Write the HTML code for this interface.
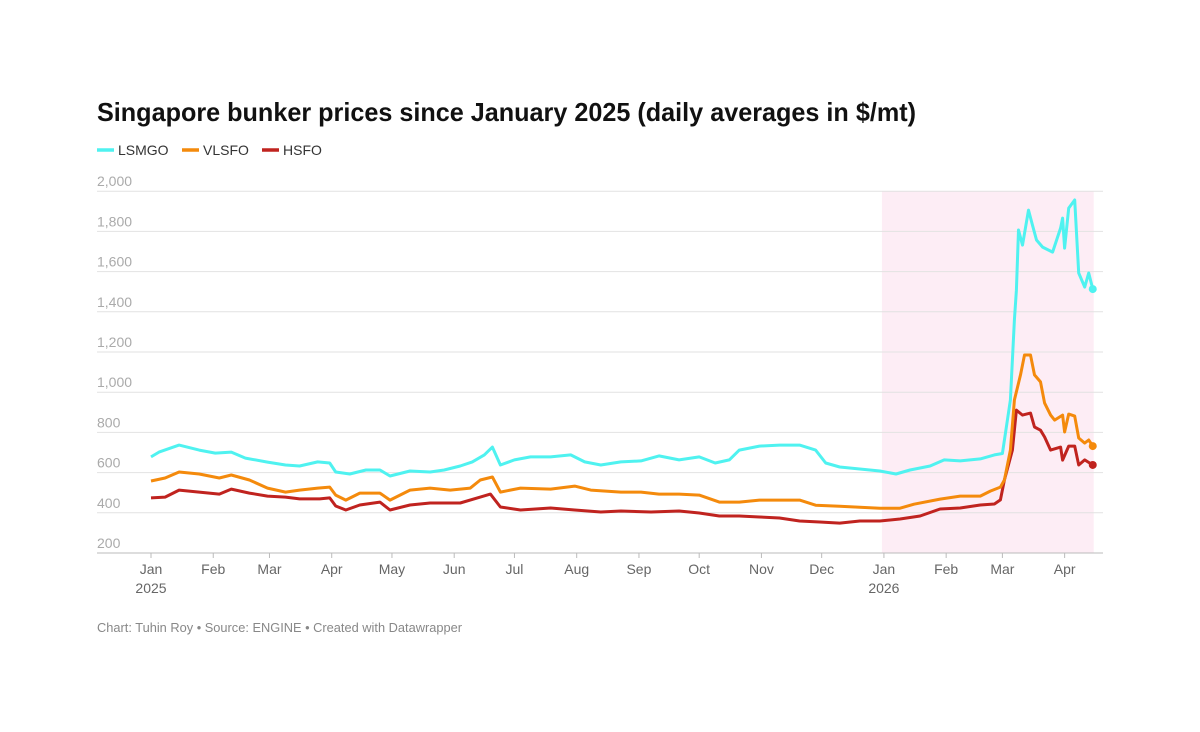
<!DOCTYPE html>
<html><head><meta charset="utf-8">
<style>
body{margin:0;background:#fff;font-family:"Liberation Sans",Arial,sans-serif;}
#wrap{position:relative;width:1200px;height:732px;overflow:hidden;}
</style></head>
<body><div id="wrap">
<svg id="chart" width="1200" height="732"></svg>
</div>
<script>
const yTicks=[200,400,600,800,1000,1200,1400,1600,1800,2000];
const monthTicks=[0,31,59,90,120,151,181,212,243,273,304,334,365,396,424,455];
const monthLabels=["Jan","Feb","Mar","Apr","May","Jun","Jul","Aug","Sep","Oct","Nov","Dec","Jan","Feb","Mar","Apr"];
const lsmgoDays=[0,4,14,24,32,40,47,58,67,74,83,89,92,99,107,114,119,129,139,146,154,160,166,170,174,181,189,199,209,216,224,234,244,253,263,273,281,288,293,303,313,323,331,336,343,353,363,371,378,388,395,403,413,420,424,428,430,431,432,434,437,439,441,444,449,453,454,455,457,460,462,465,467,469];
const lsmgo=[678,702,737,712,697,702,672,652,638,633,653,648,603,593,613,613,583,608,603,613,633,653,688,727,638,663,678,678,688,653,638,653,658,683,663,678,648,663,712,732,737,737,712,648,628,618,608,593,613,633,663,658,668,688,695,961,1359,1508,1807,1732,1906,1831,1757,1722,1697,1817,1866,1717,1916,1956,1593,1523,1593,1513];
const vlsfoDays=[0,7,14,24,34,40,49,58,67,74,83,89,92,97,104,114,119,129,139,149,159,164,170,174,184,199,211,219,234,244,253,263,273,283,293,303,313,323,331,343,353,363,373,380,393,403,413,418,423,425,428,430,433,435,438,440,443,445,448,450,454,455,457,460,462,465,467,469];
const vlsfo=[558,573,603,593,573,588,563,523,503,513,523,528,488,463,498,498,463,513,523,513,523,563,578,503,523,518,533,513,503,503,493,493,488,453,453,463,463,463,438,433,428,423,423,443,468,483,483,508,528,563,712,961,1086,1185,1185,1086,1051,946,886,861,886,802,891,881,772,747,762,732];
const hsfoDays=[0,7,14,24,34,40,49,58,67,74,84,89,92,97,104,114,119,129,139,154,164,169,174,184,199,211,224,234,249,263,273,283,293,303,313,323,333,343,353,363,373,383,393,403,413,420,423,425,429,431,434,438,440,443,445,448,453,454,457,460,462,465,469];
const hsfo=[474,478,513,503,493,518,498,483,478,469,469,474,434,414,439,453,414,439,449,449,478,493,429,414,424,414,404,409,404,409,399,384,384,379,374,359,354,349,359,359,369,384,419,424,439,444,464,563,712,911,886,896,827,811,777,712,727,662,732,732,638,663,638];

const svg=document.getElementById('chart');
const NS='http://www.w3.org/2000/svg';
const X=d=>151+d*2.008;
const Y=v=>553-(v-200)/200*40.2;
function mk(tag,attrs,parent){const e=document.createElementNS(NS,tag);for(const k in attrs)e.setAttribute(k,attrs[k]);(parent||svg).appendChild(e);return e;}

const title=mk('text',{x:97,y:121,'font-size':26,'font-weight':'bold',fill:'#111',textLength:819,lengthAdjust:'spacingAndGlyphs'});
title.textContent='Singapore bunker prices since January 2025 (daily averages in $/mt)';



const legendItems=[["LSMGO","#4ff2f0",97],["VLSFO","#f48a0c",182],["HSFO","#c0231f",262]];
legendItems.forEach(li=>{
  const g=mk('g',{});
  
  
  mk('line',{x1:li[2],x2:li[2]+17,y1:150,y2:150,stroke:li[1],'stroke-width':3.5},g);
  const t=mk('text',{x:li[2]+21,y:155,'font-size':14,fill:'#333'},g);t.textContent=li[0];
});

const shade=mk('rect',{x:X(365)-2,y:191,width:X(469)-X(365)+3,height:362,fill:'#fdedf5'});



yTicks.forEach(v=>{
  const l=mk('line',{x1:97,x2:1103,y1:Y(v),y2:Y(v),stroke:v===200?'#bbb':'#e2e2e2','stroke-width':1});
  
  
  const t=mk('text',{x:97,y:Y(v)-5,'font-size':14,fill:'#aaa'});
  t.textContent=v.toLocaleString('en-US');
  
  
});

monthTicks.forEach((d,i)=>{
  mk('line',{x1:X(d),x2:X(d),y1:553,y2:558,stroke:'#bbb'});
  const t=mk('text',{x:X(d),y:574,'font-size':14,fill:'#666','text-anchor':'middle'});
  t.textContent=monthLabels[i];
  
  
  if(i===0||i===12){const y2=mk('text',{x:X(d),y:593,'font-size':14,fill:'#666','text-anchor':'middle'});y2.textContent=i===0?'2025':'2026';
    
    }
});

function series(days,vals,color,name){
  const p=days.map((d,i)=>(i?'L':'M')+X(d).toFixed(1)+','+Y(vals[i]).toFixed(1)).join('');
  const path=mk('path',{d:p,fill:'none',stroke:color,'stroke-width':3,'stroke-linejoin':'round'});
  
  
  const n=days.length-1;
  const c=mk('circle',{cx:X(days[n]),cy:Y(vals[n]),r:4,fill:color});
  
  
}
series(hsfoDays,hsfo,'#c0231f','hsfo');
series(vlsfoDays,vlsfo,'#f48a0c','vlsfo');
series(lsmgoDays,lsmgo,'#4ff2f0','lsmgo');

const foot=mk('text',{x:97,y:632,'font-size':13,fill:'#888',textLength:365,lengthAdjust:'spacingAndGlyphs'});
foot.textContent='Chart: Tuhin Roy • Source: ENGINE • Created with Datawrapper';


</script>
</body></html>
